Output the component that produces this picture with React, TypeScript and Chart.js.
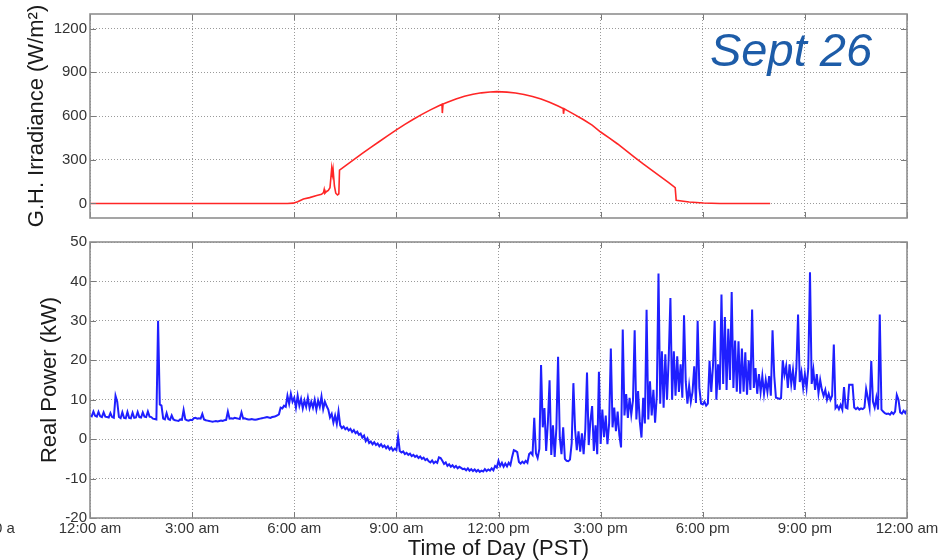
import React, { useEffect, useRef } from "react";
import { Chart, registerables } from "chart.js";

Chart.register(...registerables);

const FONT = '"Liberation Sans", Arial, Helvetica, sans-serif';

// ---- axes ----
const HOUR_TICKS = [0, 3, 6, 9, 12, 15, 18, 21, 24];
const HOUR_LABELS = [
  "12:00 am", "3:00 am", "6:00 am", "9:00 am", "12:00 pm",
  "3:00 pm", "6:00 pm", "9:00 pm", "12:00 am",
];
const IRR_TICKS = [0, 300, 600, 900, 1200];
const POWER_TICKS = [-20, -10, 0, 10, 20, 30, 40, 50];

// ---- G.H. irradiance (W/m^2) ----
const irrHours = [
  0, 5.8, 5.97, 6.1, 6.27, 6.45, 6.66, 6.8, 6.86, 6.88,
  6.9, 6.95, 7.0, 7.05, 7.1, 7.12, 7.14, 7.18, 7.22, 7.27,
  7.31, 7.33, 7.5, 7.75, 8.0, 8.25, 8.5, 8.75, 9.0, 9.25,
  9.5, 9.75, 10.0, 10.25, 10.34, 10.35, 10.37, 10.5, 10.75, 11.0,
  11.25, 11.5, 11.75, 11.95, 12.25, 12.5, 12.75, 13.0, 13.25, 13.5,
  13.75, 13.9, 13.91, 13.93, 14.0, 14.25, 14.5, 14.75, 15.0, 15.25,
  15.5, 15.75, 16.0, 16.25, 16.5, 16.75, 17.0, 17.19, 17.22, 17.6,
  18.02, 18.5, 19.98,
];
const irrValues = [
  0, 0, 2, 12, 31, 40, 54, 62, 75, 96,
  70, 82, 90, 108, 240, 200, 235, 120, 70, 58,
  66, 229, 258, 300, 343, 385, 425, 465, 505, 543,
  578, 611, 642, 670, 680, 620, 682, 695, 717, 735,
  749, 759, 765, 767, 764, 758, 748, 734, 716, 694,
  668, 652, 615, 650, 640, 608, 574, 537, 490, 450,
  408, 362, 316, 272, 228, 185, 143, 108, 21, 10,
  3, 0, 0,
];

// ---- Real power (kW), one sample every 3 minutes ----
const POWER_STEP_HOURS = 0.05;
const powerKW = [
  // 0h
  6.0, 5.8, 7.0, 5.9, 5.7, 6.9, 5.8, 5.6, 6.8, 5.7, 5.6, 5.5, 6.6, 5.6, 5.4, 11.0, 9.5, 5.6, 5.3, 6.8,
  // 1h
  5.4, 5.3, 6.9, 5.4, 5.3, 6.7, 5.4, 5.5, 6.9, 5.6, 5.5, 6.8, 5.7, 5.6, 7.0, 5.7, 5.6, 5.2, 5.1, 5.0,
  // 2h
  30.0, 8.8, 8.5, 5.2, 5.0, 6.6, 5.1, 4.9, 6.0, 5.0, 4.8, 4.7, 4.6, 5.0, 4.9, 7.4, 5.0, 4.8, 4.7, 4.9,
  // 3h
  4.8, 5.3, 5.4, 5.2, 5.3, 5.2, 6.4, 5.0, 4.8, 4.7, 4.6, 4.5, 4.4, 4.5, 4.6, 4.5, 4.6, 4.7, 4.6, 4.8,
  // 4h
  4.9, 7.0, 5.2, 5.3, 5.2, 5.4, 5.3, 5.2, 5.1, 6.8, 5.2, 5.3, 5.1, 5.0, 5.0, 5.1, 5.0, 4.9, 5.0, 5.1,
  // 5h
  5.2, 5.3, 5.4, 5.5, 5.6, 5.5, 5.4, 5.6, 5.7, 5.8, 6.0, 6.3, 8.0, 7.8, 8.5, 8.2, 11.0, 9.0, 11.5, 9.5,
  // 6h
  10.5, 8.0, 11.0, 8.5, 10.2, 7.8, 9.8, 8.2, 10.5, 7.9, 9.5, 8.0, 10.0, 7.5, 9.8, 8.2, 10.8, 7.6, 9.5, 8.4,
  // 7h
  7.5, 5.5, 6.4, 4.2, 6.0, 3.9, 7.0, 3.5, 2.8, 3.2, 2.5, 2.9, 2.2, 2.6, 1.8, 2.3, 1.5, 1.9, 1.1, 1.4,
  // 8h
  0.4, 0.9, -0.5, 0.2, -1.0, -0.6, -1.3, -0.8, -1.5, -1.1, -1.8, -1.3, -2.0, -1.6, -2.3, -1.8, -2.6, -2.1, -2.9, -2.4,
  // 9h
  -2.8, 0.6, -3.0, -3.4, -3.1, -3.8, -3.5, -4.0, -3.7, -4.3, -4.0, -4.5, -4.2, -4.8, -4.4, -5.0, -4.7, -5.3, -5.0, -5.6,
  // 10h
  -5.9, -5.4, -6.1, -5.7, -6.0, -4.6, -4.8, -5.5, -6.3, -5.9, -6.8, -6.4, -7.0, -6.6, -7.2, -6.8, -7.4, -7.0, -7.3, -7.6,
  // 11h
  -7.5, -7.9, -7.4, -8.0, -7.6, -8.1, -7.7, -8.2, -7.8, -8.3, -8.0, -8.2, -7.6, -8.1, -7.7, -8.0, -7.4, -7.9, -6.8, -7.2,
  // 12h
  -5.5, -6.8, -6.0, -7.0, -6.2, -6.9, -6.0, -6.6, -4.5, -2.8, -3.0, -3.3, -5.8, -6.2, -5.7, -6.1, -5.5, -6.0, -3.8, -3.4,
  // 13h
  -4.0, 5.4, -3.6, -4.8, -2.5, 18.8, 3.0, 7.9, -3.0, 4.2, 14.9, -4.0, 3.5, -4.5, 2.8, 20.9, 0.5, -3.8, 3.0, -5.0,
  // 14h
  -5.5, -5.6, -5.2, -1.0, 14.2, 2.5, -2.8, 2.0, -3.2, 1.5, -3.8, 2.5, 16.9, -1.5, 4.6, 8.4, -3.0, 3.5, -3.8, 17.1,
  // 15h
  -1.2, 7.5, 0.5, 6.0, -1.3, 4.0, 23.0, 3.0, 8.0, 2.0, 7.0, 1.0, -2.1, 27.8, 6.0, 11.4, 5.4, 10.5, 6.2, 9.8,
  // 16h
  27.6, 5.0, 12.2, 4.5, 0.4, 10.5, 4.0, 32.8, 5.0, 14.7, 6.0, 12.5, 4.2, 11.0, 42.0, 9.0, 22.3, 8.0, 21.5, 10.0,
  // 17h
  20.5, 35.8, 10.0, 22.3, 11.0, 21.0, 12.0, 19.0, 10.5, 31.4, 14.7, 9.0, 13.5, 9.5, 12.0, 18.5, 9.2, 30.0, 13.0, 9.0,
  // 18h
  8.8, 9.5, 8.5, 9.0, 19.9, 12.0, 18.5, 30.0, 10.0, 19.0, 12.5, 36.7, 14.0, 31.0, 12.5, 28.0, 15.0, 37.3, 13.0, 25.0,
  // 19h
  12.0, 24.8, 11.5, 23.0, 12.0, 22.0, 11.3, 20.0, 12.5, 32.9, 13.0, 18.0, 11.5, 16.5, 12.0, 16.0, 11.5, 15.0, 12.0, 16.0,
  // 20h
  11.0, 27.6, 16.0, 10.5, 10.4, 10.2, 10.4, 20.0, 16.3, 18.5, 13.0, 19.0, 14.0, 17.5, 12.5, 18.0, 31.6, 14.5, 17.0, 13.0,
  // 21h
  16.5, 13.0, 18.0, 42.3, 14.0, 17.5, 12.5, 16.5, 11.7, 15.0, 12.5, 11.0, 12.5, 10.0, 11.5, 10.0, 11.0, 24.0, 7.9, 8.5,
  // 22h
  7.6, 8.7, 7.5, 13.2, 8.0, 7.8, 13.8, 13.8, 13.8, 8.0, 7.6, 8.0, 7.5, 7.8, 7.6, 8.0, 12.7, 10.5, 8.0, 19.8,
  // 23h
  9.5, 8.0, 10.5, 7.5, 31.6, 7.5, 7.0, 6.6, 6.4, 6.5, 6.2, 6.8, 6.4, 7.0, 11.2, 10.0, 6.8, 6.5, 7.2, 6.6,
  // 24h
  7.5,
];

// ---- plugin: MATLAB-style box with inward ticks + free text ----
const framePlugin = {
  id: "matlabFrame",
  afterDraw(chart: any, _args: any, opts: any) {
    const { ctx, chartArea } = chart;
    const { left, right, top, bottom } = chartArea;
    const xs = chart.scales.x;
    const ys = chart.scales.y;
    const TL = 6;
    ctx.save();
    ctx.strokeStyle = "#7a7a7a";
    ctx.lineWidth = 1;
    ctx.beginPath();
    xs.ticks.forEach((t: any) => {
      const px = Math.round(xs.getPixelForValue(t.value)) + 0.5;
      ctx.moveTo(px, bottom);
      ctx.lineTo(px, bottom - TL);
      ctx.moveTo(px, top);
      ctx.lineTo(px, top + TL);
    });
    ys.ticks.forEach((t: any) => {
      const py = Math.round(ys.getPixelForValue(t.value)) + 0.5;
      ctx.moveTo(left, py);
      ctx.lineTo(left + TL, py);
      ctx.moveTo(right, py);
      ctx.lineTo(right - TL, py);
    });
    ctx.stroke();
    ctx.strokeStyle = "#8f8f8f";
    ctx.lineWidth = 1.6;
    ctx.strokeRect(left, top, right - left, bottom - top);
    (opts.texts || []).forEach((t: any) => {
      ctx.font = t.font;
      ctx.fillStyle = t.color;
      ctx.textAlign = t.align || "left";
      ctx.textBaseline = t.baseline || "alphabetic";
      ctx.fillText(t.text, t.x, t.y);
    });
    ctx.restore();
  },
};

const gridOpts = { color: "#9a9a9a", lineWidth: 1, drawTicks: false };
const borderOpts = { display: false, dash: [1, 2] };
const tickFont = { family: FONT, size: 15 };
const titleFont = { family: FONT, size: 22 };

function hoursAxis(showLabels: boolean, height: number) {
  return {
    type: "linear",
    min: 0,
    max: 24,
    afterBuildTicks: (s: any) => {
      s.ticks = HOUR_TICKS.map((v) => ({ value: v }));
    },
    afterFit: (s: any) => {
      s.height = height;
    },
    grid: gridOpts,
    border: borderOpts,
    ticks: {
      display: showLabels,
      autoSkip: false,
      maxRotation: 0,
      padding: 2,
      font: tickFont,
      color: "#333",
      callback: (v: number) => HOUR_LABELS[HOUR_TICKS.indexOf(v)],
    },
    title: showLabels
      ? {
          display: true,
          text: "Time of Day (PST)",
          font: titleFont,
          color: "#1a1a1a",
          padding: { top: 0, bottom: -2 },
        }
      : { display: false },
  };
}

function valueAxis(min: number, max: number, ticks: number[], title: string, titlePad: number) {
  return {
    type: "linear",
    min,
    max,
    afterBuildTicks: (s: any) => {
      s.ticks = ticks.map((v) => ({ value: v }));
    },
    afterFit: (s: any) => {
      s.width = 90;
    },
    grid: gridOpts,
    border: borderOpts,
    ticks: {
      font: tickFont,
      color: "#333",
      padding: 3,
      callback: (v: number) => String(v),
    },
    title: {
      display: true,
      text: title,
      font: titleFont,
      color: "#1a1a1a",
      padding: { top: titlePad, bottom: 0 },
    },
  };
}

export default function App() {
  const topRef = useRef<HTMLCanvasElement | null>(null);
  const botRef = useRef<HTMLCanvasElement | null>(null);

  useEffect(() => {
    document.body.style.margin = "0";
    const top = new Chart(topRef.current as HTMLCanvasElement, {
      type: "line",
      data: {
        datasets: [
          {
            data: irrValues.map((v, i) => ({ x: irrHours[i], y: v })),
            borderColor: "#ff2626",
            borderWidth: 1.6,
            pointRadius: 0,
            tension: 0,
          },
        ],
      },
      options: {
        animation: false,
        responsive: false,
        devicePixelRatio: 1,
        layout: { padding: { left: 0, right: 37, top: 14, bottom: 0 } },
        plugins: {
          legend: { display: false },
          tooltip: { enabled: false },
          matlabFrame: {
            texts: [
              {
                text: "Sept 26",
                x: 710,
                y: 66,
                font: `italic 47px ${FONT}`,
                color: "#1d5ca8",
              },
            ],
          },
        } as any,
        scales: {
          x: hoursAxis(false, 3),
          y: valueAxis(-100, 1300, IRR_TICKS, "G.H. Irradiance (W/m²)", 24),
        } as any,
      },
      plugins: [framePlugin],
    } as any);

    const bot = new Chart(botRef.current as HTMLCanvasElement, {
      type: "line",
      data: {
        datasets: [
          {
            data: powerKW.map((v, i) => ({ x: i * POWER_STEP_HOURS, y: v })),
            borderColor: "#1f1fff",
            borderWidth: 2,
            pointRadius: 0,
            tension: 0,
          },
        ],
      },
      options: {
        animation: false,
        responsive: false,
        devicePixelRatio: 1,
        layout: { padding: { left: 0, right: 37, top: 11, bottom: 0 } },
        plugins: {
          legend: { display: false },
          tooltip: { enabled: false },
          matlabFrame: {
            texts: [
              {
                text: "0 a",
                x: -6,
                y: 299,
                font: `15px ${FONT}`,
                color: "#333",
                baseline: "middle",
              },
            ],
          },
        } as any,
        scales: {
          x: hoursAxis(true, 42),
          y: valueAxis(-20, 50, POWER_TICKS, "Real Power (kW)", 37),
        } as any,
      },
      plugins: [framePlugin],
    } as any);

    return () => {
      top.destroy();
      bot.destroy();
    };
  }, []);

  return (
    <div
      style={{
        position: "fixed",
        left: 0,
        top: 0,
        width: 944,
        height: 560,
        background: "#fff",
        overflow: "hidden",
      }}
    >
      <canvas
        ref={topRef}
        width={944}
        height={230}
        style={{ position: "absolute", left: 0, top: 0, width: 944, height: 230 }}
      />
      <canvas
        ref={botRef}
        width={944}
        height={330}
        style={{ position: "absolute", left: 0, top: 230, width: 944, height: 330 }}
      />
    </div>
  );
}
